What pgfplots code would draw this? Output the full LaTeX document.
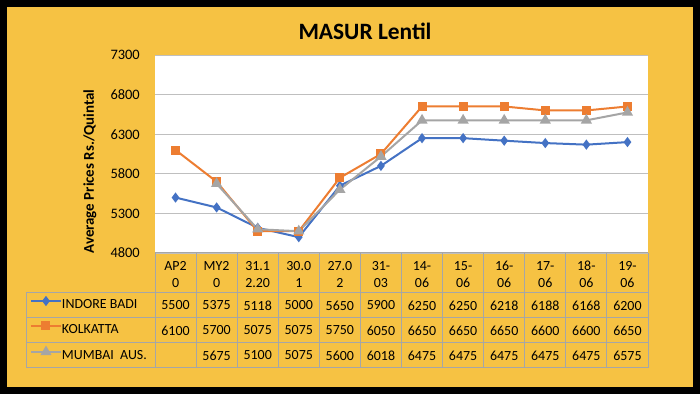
\documentclass[border=0pt]{standalone}
\usepackage{fontspec}
\setmainfont{Carlito}
\usepackage{pgfplots}
\pgfplotsset{compat=1.18}
\definecolor{bg}{HTML}{F6C243}
\definecolor{sblue}{HTML}{4472C4}
\definecolor{sorange}{HTML}{ED7D31}
\definecolor{sgray}{HTML}{A5A5A5}
\definecolor{tline}{HTML}{A6A6A6}
\begin{document}
\begin{tikzpicture}
\fill[black] (0,0) rectangle (700bp,394bp);
\fill[bg] (7bp,7bp) rectangle (693bp,387bp);
\node[font=\bfseries\fontsize{23.5}{27}\selectfont] at (365bp,363bp) {MASUR Lentil};
\node[rotate=90, font=\bfseries\fontsize{15}{17}\selectfont] at (90bp,222.5bp) {Average Prices Rs./Quintal};
\begin{axis}[
  at={(155bp,141bp)}, anchor=south west,
  scale only axis, width=493bp, height=198bp,
  xmin=-0.5, xmax=11.5, ymin=4800, ymax=7300,
  ytick={4800,5300,5800,6300,6800,7300},
  xtick=\empty,
  ymajorgrids, major grid style={draw=gray!50, line width=0.8bp},
  axis line style={draw=none}, major tick length=0pt,
  axis background/.style={fill=white},
  yticklabel style={anchor=east, inner sep=0pt, xshift=-15bp, font=\fontsize{14.5}{16}\selectfont},
  /pgf/number format/assume math mode=true,
  /pgf/number format/1000 sep={},
  clip=false,
  legend style={at={(-0.25355,-0.3914)}, anchor=west, draw=none, fill=none, inner sep=0pt, outer sep=0pt,
    font=\fontsize{14}{16}\selectfont, row sep=10bp,
    nodes={inner sep=0pt, text height=11bp, text depth=4bp}},
  legend cell align=left,
  legend image code/.code={\draw[mark repeat=2, mark phase=2, #1] plot coordinates {(0bp,4bp) (15bp,4bp) (30bp,4bp)};},
]
\addplot[sblue, line width=2bp, mark=diamond*, mark size=3.5bp] coordinates {
(0,5500) (1,5375) (2,5118) (3,5000) (4,5650) (5,5900) (6,6250) (7,6250) (8,6218) (9,6188) (10,6168) (11,6200)};
\addlegendentry{INDORE BADI}
\addplot[sorange, line width=2bp, mark=square*, mark size=3.5bp] coordinates {
(0,6100) (1,5700) (2,5075) (3,5075) (4,5750) (5,6050) (6,6650) (7,6650) (8,6650) (9,6600) (10,6600) (11,6650)};
\addlegendentry{KOLKATTA}
\addplot[sgray, line width=2bp, mark=triangle*, mark size=4.5bp] coordinates {
(1,5675) (2,5100) (3,5075) (4,5600) (5,6018) (6,6475) (7,6475) (8,6475) (9,6475) (10,6475) (11,6575)};
\addlegendentry{MUMBAI\ \ AUS.}
\end{axis}
\begin{scope}[yshift=394bp, x=1bp, y=-1bp]
\foreach \k in {0,...,12} \draw[tline, line width=1bp] ({155+\k*41.0833},253) -- ({155+\k*41.0833},368);
\draw[tline, line width=1bp] (155,253) -- (648,253);
\foreach \yy in {293,318,343,368} \draw[tline, line width=1bp] (26,\yy) -- (648,\yy);
\draw[tline, line width=1bp] (26,293) -- (26,368);
\foreach \t [count=\i from 0] in {{AP2\\0},{MY2\\0},{31.1\\2.20},{30.0\\1},{27.0\\2},{31-\\03},{14-\\06},{15-\\06},{16-\\06},{17-\\06},{18-\\06},{19-\\06}}
  \node[align=center, font=\fontsize{14}{17}\selectfont, inner sep=0pt] at ({175.54+\i*41.0833},274.5) {\t};
\foreach \v [count=\i from 0] in {5500,5375,5118,5000,5650,5900,6250,6250,6218,6188,6168,6200}
  \node[font=\fontsize{14}{16}\selectfont, inner sep=0pt] at ({175.54+\i*41.0833},305.5) {\v};
\foreach \v [count=\i from 0] in {6100,5700,5075,5075,5750,6050,6650,6650,6650,6600,6600,6650}
  \node[font=\fontsize{14}{16}\selectfont, inner sep=0pt] at ({175.54+\i*41.0833},330.5) {\v};
\foreach \v [count=\i from 1] in {5675,5100,5075,5600,6018,6475,6475,6475,6475,6475,6575}
  \node[font=\fontsize{14}{16}\selectfont, inner sep=0pt] at ({175.54+\i*41.0833},355.5) {\v};
\end{scope}
\end{tikzpicture}
\end{document}
